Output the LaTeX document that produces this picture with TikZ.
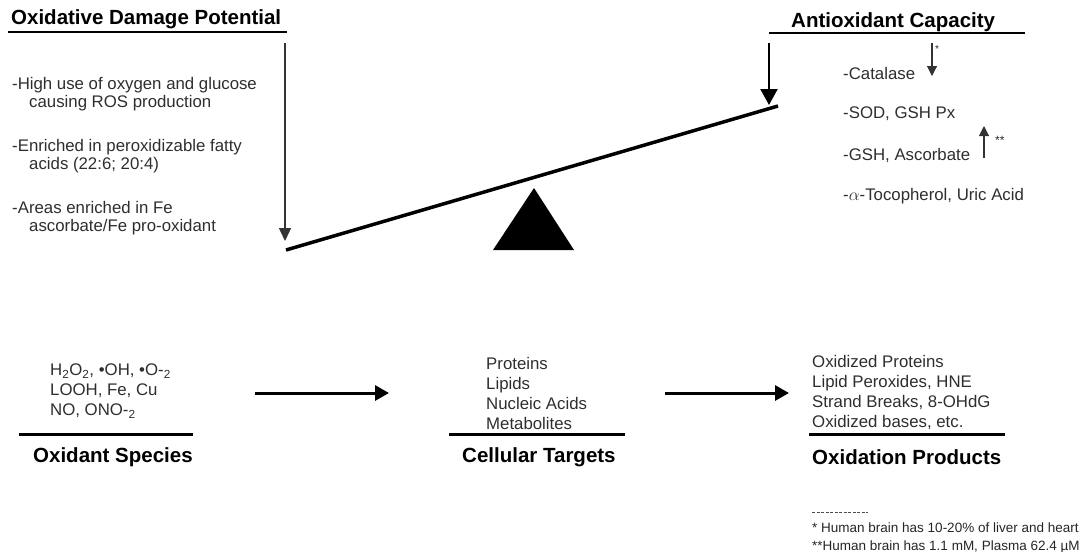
\documentclass[tikz,border=0pt]{standalone}
\usepackage{fontspec}
\setmainfont{Liberation Sans}
\usetikzlibrary{arrows.meta}
\begin{document}
\begin{tikzpicture}[x=1pt,y=-1pt,
  body/.style={anchor=west, inner sep=0pt, align=left, font=\fontsize{16.8}{18.5}\selectfont, text=black!82},
  lines/.style={anchor=west, inner sep=0pt, align=left, font=\fontsize{16.8}{20}\selectfont, text=black!82},
  head/.style={anchor=west, inner sep=0pt, font=\bfseries\fontsize{20.5}{22}\selectfont},
  note/.style={anchor=west, inner sep=0pt, align=left, font=\fontsize{13.5}{18.5}\selectfont, text=black!85},
  rule/.style={line width=2.2pt},
  brule/.style={line width=3pt},
  longarrow/.style={line width=1.4pt, draw=black!80, -{Triangle[length=13pt,width=12pt]}},
  bigarrow/.style={line width=2.2pt, -{Triangle[length=16pt,width=17pt]}},
  smallarrow/.style={line width=1.1pt, draw=black!80, -{Triangle[length=10pt,width=10pt]}},
  flowarrow/.style={line width=3pt, -{Triangle[length=14pt,width=15pt]}}
]
\useasboundingbox (0,0) rectangle (1088,552);

% ---- top left
\node[head] (odp) at (11,19) {Oxidative Damage Potential};
\coordinate (odpl) at (8,32);
\coordinate (odpr) at (287,32);
\draw[rule] (odpl) -- (odpr);

\node[body] (b1) at (12,94) {-High use of oxygen and glucose\\\hspace*{17pt}causing ROS production};
\node[body] (b2) at (12,156) {-Enriched in peroxidizable fatty\\\hspace*{17pt}acids (22:6; 20:4)};
\node[body] (b3) at (12,218) {-Areas enriched in Fe\\\hspace*{17pt}ascorbate/Fe pro-oxidant};

% ---- seesaw
\coordinate (sl) at (286,250);
\coordinate (sr) at (778,106);
\draw[line width=3.5pt] (sl) -- (sr);
\coordinate (tapex) at (534,188);
\coordinate (tbl) at (493,250);
\coordinate (tbr) at (574,250);
\fill (tapex) -- (tbl) -- (tbr) -- cycle;

\coordinate (la0) at (285,43);
\coordinate (la1) at (285,241);
\draw[longarrow] (la0) -- (la1);

\coordinate (ra0) at (769,43);
\coordinate (ra1) at (769,105);
\draw[bigarrow] (ra0) -- (ra1);

% ---- top right
\node[head] (ac) at (791,22) {Antioxidant Capacity};
\coordinate (acl) at (769,33);
\coordinate (acr) at (1025,33);
\draw[rule] (acl) -- (acr);

\node[body] (c1) at (843,73) {-Catalase};
\node[body] (c2) at (843,114) {-SOD, GSH Px};
\node[body] (c3) at (843,155) {-GSH, Ascorbate};
\node[body] (c4) at (843,196) {-$\alpha$-Tocopherol, Uric Acid};

\coordinate (sa0) at (932,43);
\coordinate (sa1) at (932,76);
\draw[smallarrow] (sa0) -- (sa1);
\node[note, font=\fontsize{10}{10}\selectfont] (st1) at (935,49) {*};

\coordinate (ua0) at (984,158);
\coordinate (ua1) at (984,126);
\draw[smallarrow] (ua0) -- (ua1);
\node[note, font=\fontsize{12}{12}\selectfont] (st2) at (995,140) {**};

% ---- bottom row
\node[lines] (os) at (50,391) {H\textsubscript{2}O\textsubscript{2}, •OH, •O-\textsubscript{2}\\LOOH, Fe, Cu\\NO, ONO-\textsubscript{2}};
\coordinate (osl) at (19,434);
\coordinate (osr) at (193,434);
\draw[brule] (osl) -- (osr);
\node[head] (ost) at (33,457) {Oxidant Species};

\node[lines] (ct) at (486,393) {Proteins\\Lipids\\Nucleic Acids\\Metabolites};
\coordinate (ctl) at (449,434);
\coordinate (ctr) at (625,434);
\draw[brule] (ctl) -- (ctr);
\node[head] (ctt) at (462,457) {Cellular Targets};

\node[lines] (op) at (812,392) {Oxidized Proteins\\Lipid Peroxides, HNE\\Strand Breaks, 8-OHdG\\Oxidized bases, etc.};
\coordinate (opl) at (809,434);
\coordinate (opr) at (1005,434);
\draw[brule] (opl) -- (opr);
\node[head] (opt) at (812,457) {Oxidation Products};

\coordinate (fa0) at (255,393);
\coordinate (fa1) at (389,393);
\draw[flowarrow] (fa0) -- (fa1);
\coordinate (fb0) at (665,393);
\coordinate (fb1) at (789,393);
\draw[flowarrow] (fb0) -- (fb1);

% ---- footnote
\coordinate (dl) at (812,512);
\coordinate (dr) at (868,512);
\draw[line width=0.9pt, dash pattern=on 3pt off 1.5pt, draw=black!70] (dl) -- (dr);
\node[note] (fn) at (812,538) {* Human brain has 10-20\% of liver and heart\\**Human brain has 1.1 mM, Plasma 62.4 µM};
\end{tikzpicture}
\end{document}
